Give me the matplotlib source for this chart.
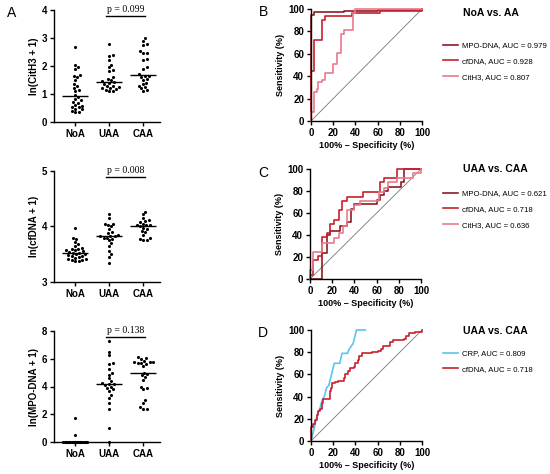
import numpy as np
import matplotlib
matplotlib.use('Agg')
import matplotlib.pyplot as plt

plt.rcParams['font.family'] = ['Liberation Sans', 'DejaVu Sans']

# ---------------- data ----------------
groups = ['NoA', 'UAA', 'CAA']

cith3_noa = [2.67, 2.05, 1.97, 1.88, 1.68, 1.65, 1.6, 1.5, 1.35, 1.3, 1.22, 1.15, 1.1, 0.95,
             0.9, 0.82, 0.77, 0.72, 0.68, 0.62, 0.58, 0.55, 0.52, 0.48, 0.45, 0.4, 0.37, 0.35]
cith3_uaa = [2.77, 2.4, 2.35, 2.2, 2.05, 1.95, 1.85, 1.82, 1.6, 1.55, 1.5, 1.45, 1.42, 1.4,
             1.35, 1.3, 1.28, 1.25, 1.22, 1.2, 1.18, 1.15, 1.12, 1.1]
cith3_caa = [3.0, 2.9, 2.8, 2.75, 2.52, 2.48, 2.45, 2.25, 2.2, 1.95, 1.9, 1.7, 1.65, 1.65,
             1.6, 1.55, 1.5, 1.4, 1.35, 1.3, 1.25, 1.2, 1.15, 1.1]

cfdna_noa = [3.97, 3.8, 3.78, 3.72, 3.68, 3.65, 3.62, 3.6, 3.6, 3.58, 3.57, 3.55, 3.54, 3.53,
             3.52, 3.5, 3.5, 3.48, 3.47, 3.46, 3.45, 3.44, 3.42, 3.41, 3.4, 3.39, 3.38, 3.37]
cfdna_uaa = [4.22, 4.15, 4.05, 4.05, 4.02, 4.0, 3.95, 3.9, 3.88, 3.85, 3.83, 3.82, 3.82, 3.8,
             3.8, 3.78, 3.75, 3.7, 3.65, 3.55, 3.5, 3.45, 3.35]
cfdna_caa = [4.27, 4.22, 4.15, 4.12, 4.1, 4.08, 4.05, 4.03, 4.02, 4.02, 4.0, 3.98, 3.95, 3.92,
             3.9, 3.85, 3.8, 3.78, 3.76, 3.75]

mpo_noa = [1.7, 0.5] + [0.0] * 26
mpo_uaa = [7.25, 6.5, 6.25, 5.7, 5.6, 5.25, 5.0, 4.85, 4.6, 4.4, 4.25, 4.2, 4.15, 4.1, 4.0,
           3.9, 3.8, 3.7, 3.4, 3.2, 2.8, 2.4, 1.0, 0.0]
mpo_caa = [6.1, 6.05, 5.95, 5.85, 5.8, 5.78, 5.75, 5.72, 5.7, 5.65, 5.5, 5.0, 4.9, 4.8, 4.7,
           4.5, 4.0, 3.9, 3.8, 3.0, 2.8, 2.5, 2.4, 2.35]

p_cith3 = 'p = 0.099'
p_cfdna = 'p = 0.008'
p_mpo = 'p = 0.138'

# ROC curves (x = 100% - specificity, y = sensitivity)
b_mpo_x = [0, 0, 3, 3, 30, 30, 60, 60, 100, 100]
b_mpo_y = [0, 95, 95, 97, 97, 98, 98, 99, 99, 100]
b_cf_x = [0, 0, 3, 3, 10, 10, 13, 13, 37, 37, 62, 62, 100, 100]
b_cf_y = [0, 45, 45, 72, 72, 90, 90, 94, 94, 96, 96, 98, 98, 100]
b_ci_x = [0, 0, 3, 3, 5, 5, 6, 6, 10, 10, 13, 13, 20, 20, 23, 23, 27, 27, 30, 30, 38, 38, 40, 40, 100]
b_ci_y = [0, 8, 8, 26, 26, 29, 29, 35, 35, 37, 37, 43, 43, 51, 51, 61, 61, 78, 78, 81, 81, 96, 96, 100, 100]

c_mpo_x = [0, 11, 11, 15, 15, 18, 18, 27, 27, 33, 33, 37, 37, 40, 40, 60, 60, 63, 63, 67, 67,
           70, 70, 82, 82, 85, 85, 100]
c_mpo_y = [0, 0, 24, 24, 40, 40, 44, 44, 48, 48, 52, 52, 64, 64, 68, 68, 72, 72, 76, 76, 80,
           80, 84, 84, 88, 88, 100, 100]
c_cf_x = [0, 0, 3, 3, 7, 7, 11, 11, 15, 15, 18, 18, 22, 22, 26, 26, 29, 29, 33, 33, 48, 48,
          63, 63, 67, 67, 78, 78, 100]
c_cf_y = [0, 4, 4, 17, 17, 21, 21, 38, 38, 42, 42, 50, 50, 54, 54, 63, 63, 71, 71, 75, 75, 79,
          79, 88, 88, 92, 92, 100, 100]
c_ci_x = [0, 0, 3, 3, 11, 11, 22, 22, 26, 26, 30, 30, 33, 33, 40, 40, 45, 45, 62, 62, 67, 67,
          70, 70, 78, 78, 93, 93, 100, 100]
c_ci_y = [0, 8, 8, 25, 25, 33, 33, 37, 37, 42, 42, 48, 48, 63, 63, 67, 67, 71, 71, 79, 79, 83,
          83, 88, 88, 92, 92, 96, 96, 100]

d_crp_x = [0, 1, 2, 3, 4, 5, 6, 8, 9, 10, 12, 13, 14, 16, 17, 18, 19, 20, 21, 26, 27, 28, 33,
           34, 36, 38, 39, 40, 41, 49]
d_crp_y = [0, 4, 8, 12, 17, 21, 25, 29, 33, 37, 40, 44, 48, 50, 54, 58, 62, 66, 70, 70, 75, 79,
           79, 82, 85, 88, 92, 96, 100, 100]
# step corners (post): sensitivity reached at each false-positive rate
d_cf_x = [0, 0, 2, 4, 5, 6, 8, 10, 11, 17, 18, 19, 22, 24, 30, 31, 33, 35, 39, 40,
          42, 43, 46, 55, 60, 63, 65, 71, 74, 84, 86, 88, 94, 100]
d_cf_y = [0, 13, 15, 19, 23, 27, 29, 34, 38, 45, 48, 52, 53, 54, 57, 60, 63, 66, 67, 70,
          73, 77, 79, 80, 81, 83, 86, 89, 91, 92, 95, 97, 98, 100]

labels_b = ['MPO-DNA, AUC = 0.979', 'cfDNA, AUC = 0.928', 'CitH3, AUC = 0.807']
labels_c = ['MPO-DNA, AUC = 0.621', 'cfDNA, AUC = 0.718', 'CitH3, AUC = 0.636']
labels_d = ['CRP, AUC = 0.809', 'cfDNA, AUC = 0.718']

# ---------------- style ----------------
W, H = 550, 474
fig = plt.figure(figsize=(W / 100, H / 100), dpi=100)

C_MPO = '#8E1B24'
C_CF = '#C8202F'
C_CI = '#E77A8C'
C_CRP = '#5BC4F0'


def fig_rect(l, t, r, b):
    return [l / W, 1 - b / H, (r - l) / W, (b - t) / H]


def swarm(vals, ppx, ppy, d=3.4, cap=12.0):
    vals = np.asarray(vals, float)
    order = np.argsort(vals)
    steps = np.arange(0.5, cap + 0.01, 0.5)
    cands = np.concatenate([[0.0], np.ravel(np.column_stack([steps, -steps]))])
    placed = []
    offs = np.zeros(len(vals))
    for i in order:
        y = vals[i] * ppy
        best, bestd = 0.0, -1
        chosen = None
        for c in cands:
            md = min([np.hypot(c - px, y - py) for px, py in placed] + [1e9])
            if md >= d:
                chosen = c
                break
            if md > bestd:
                best, bestd = c, md
        if chosen is None:
            chosen = best
        placed.append((chosen, y))
        offs[i] = chosen / ppx
    return offs


def style_axes(ax):
    for s in ['top', 'right']:
        ax.spines[s].set_visible(False)
    for s in ['left', 'bottom']:
        ax.spines[s].set_linewidth(1.0)
    ax.tick_params(width=1.0, length=3, labelsize=7, pad=2)
    for lab in ax.get_xticklabels() + ax.get_yticklabels():
        lab.set_fontweight('bold')


def dot_panel(rect, data, ylim, yticks, ylabel, ptext, pline_y, ptext_y):
    ax = fig.add_axes(rect)
    ax.set_xlim(-0.62, 2.5)
    ax.set_ylim(*ylim)
    ppx = (rect[2] * W) / (2.5 + 0.62)
    ppy = (rect[3] * H) / (ylim[1] - ylim[0])
    for i, vals in enumerate(data):
        offs = swarm(vals, ppx, ppy)
        ax.scatter(i + offs, vals, s=5, color='black', linewidths=0, zorder=3, clip_on=False)
        med = np.median(vals)
        ax.plot([i - 0.37, i + 0.37], [med, med], color='black', lw=1.0, zorder=4,
                solid_capstyle='butt', clip_on=False)
    ax.plot([0.9, 2.05], [pline_y, pline_y], color='black', lw=1.0, clip_on=False)
    ax.text(1.5, ptext_y, ptext, ha='center', va='bottom', fontsize=7,
            family=['Liberation Serif', 'DejaVu Serif'])
    ax.set_xticks([0, 1, 2])
    ax.set_xticklabels(groups)
    ax.set_yticks(yticks)
    ax.set_ylabel(ylabel, fontsize=7, fontweight='bold', labelpad=1.5)
    style_axes(ax)
    return ax


dot_panel(fig_rect(54, 10, 160, 122), [cith3_noa, cith3_uaa, cith3_caa], (0, 4),
          [0, 1, 2, 3, 4], 'ln(CitH3 + 1)', p_cith3, 3.8, 3.86)
dot_panel(fig_rect(54, 171, 160, 282), [cfdna_noa, cfdna_uaa, cfdna_caa], (3, 5),
          [3, 4, 5], 'ln(cfDNA + 1)', p_cfdna, 4.89, 4.92)
dot_panel(fig_rect(54, 331, 160, 442), [mpo_noa, mpo_uaa, mpo_caa], (0, 8),
          [0, 2, 4, 6, 8], 'ln(MPO-DNA + 1)', p_mpo, 7.57, 7.7)


def roc_panel(rect, curves, labels, title, title_y, leg_y):
    ax = fig.add_axes(rect)
    ax.set_xlim(0, 100)
    ax.set_ylim(0, 100)
    ax.plot([0, 100], [0, 100], color='#777777', lw=0.6, zorder=1)
    handles = []
    for (xs, ys, col, ds), lab in zip(curves, labels):
        h, = ax.plot(xs, ys, color=col, lw=1.2, label=lab, zorder=2, clip_on=False,
                     drawstyle=ds)
        handles.append(h)
    ax.set_xticks([0, 20, 40, 60, 80, 100])
    ax.set_yticks([0, 20, 40, 60, 80, 100])
    ax.set_xlabel('100% \u2013 Specificity (%)', fontsize=6.5, fontweight='bold', labelpad=2)
    ax.set_ylabel('Sensitivity (%)', fontsize=6.5, fontweight='bold', labelpad=2)
    style_axes(ax)
    fig.text(463 / W, 1 - title_y / H, title, fontsize=7.5, fontweight='bold',
             ha='left', va='center')
    fig.legend(handles=handles, labels=labels, loc='upper left',
               bbox_to_anchor=(443 / W, 1 - leg_y / H), bbox_transform=fig.transFigure,
               frameon=False, fontsize=5.6, handlelength=1.9, handletextpad=0.5,
               labelspacing=1.05, borderpad=0, borderaxespad=0)
    return ax


roc_panel(fig_rect(311, 9, 422, 121),
          [(b_mpo_x, b_mpo_y, C_MPO, 'default'), (b_cf_x, b_cf_y, C_CF, 'default'),
           (b_ci_x, b_ci_y, C_CI, 'default')],
          labels_b, 'NoA vs. AA', 13, 42)
roc_panel(fig_rect(310, 169, 421, 279),
          [(c_mpo_x, c_mpo_y, C_MPO, 'default'), (c_cf_x, c_cf_y, C_CF, 'default'),
           (c_ci_x, c_ci_y, C_CI, 'default')],
          labels_c, 'UAA vs. CAA', 169, 190)
roc_panel(fig_rect(311, 330, 422, 441),
          [(d_crp_x, d_crp_y, C_CRP, 'default'), (d_cf_x, d_cf_y, C_CF, 'steps-post')],
          labels_d, 'UAA vs. CAA', 331, 350)

for letter, x, y in [('A', 12, 13), ('B', 263, 12), ('C', 263, 173), ('D', 263, 333)]:
    fig.text(x / W, 1 - y / H, letter, fontsize=10, ha='center', va='center')

fig.savefig('out.png', dpi=100)
